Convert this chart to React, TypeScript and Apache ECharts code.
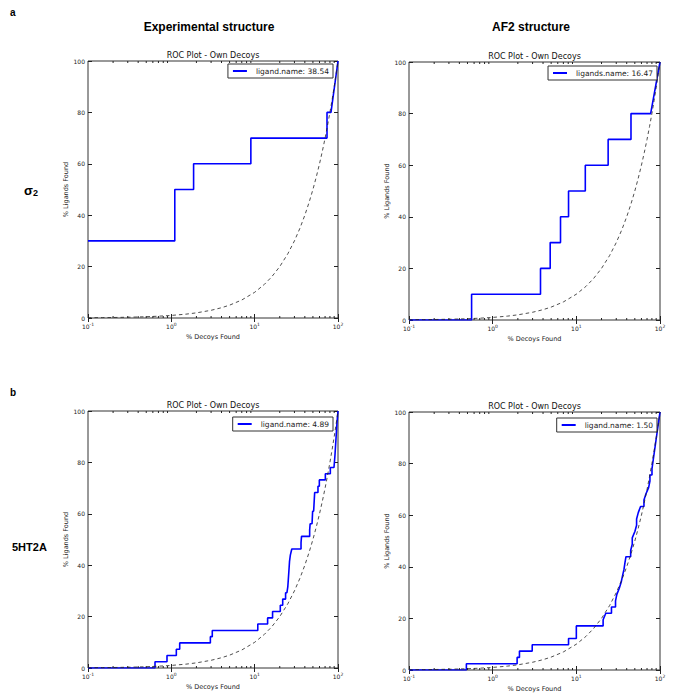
import React, { useEffect, useRef } from 'react';
import * as echarts from 'echarts';

// ---- data ----
const yTickStep = 20;
const minorTickValues = [0.2, 0.3, 0.4, 0.5, 0.6, 0.7, 0.8, 0.9, 2, 3, 4, 5, 6, 7, 8, 9, 20, 30, 40, 50, 60, 70, 80, 90];
const randomLine = [
  [0.1, 0.1], [0.15, 0.15], [0.2, 0.2], [0.3, 0.3], [0.4, 0.4], [0.5, 0.5], [0.7, 0.7], [1, 1], [1.5, 1.5],
  [2, 2], [3, 3], [4, 4], [5, 5], [7, 7], [10, 10], [13, 13], [16, 16], [20, 20], [25, 25], [30, 30], [35, 35],
  [40, 40], [45, 45], [50, 50], [55, 55], [60, 60], [65, 65], [70, 70], [75, 75], [80, 80], [85, 85], [90, 90], [95, 95], [100, 100],
];
const expSigma = [
  [0.1, 30], [1.1, 30], [1.1, 50], [1.85, 50], [1.85, 60], [9.0, 60], [9.0, 70], [73.8, 70], [73.8, 80], [82.4, 80], [100, 100],
];
const af2Sigma = [
  [0.1, 0], [0.56, 0], [0.56, 10], [3.73, 10], [3.73, 20], [4.87, 20], [4.87, 30], [6.47, 30], [6.47, 40], [8.07, 40],
  [8.07, 50], [12.8, 50], [12.8, 60], [24.0, 60], [24.0, 70], [45.0, 70], [45.0, 80], [77.3, 80], [100, 100],
];
const exp5ht = [
  [0.1, 0], [0.637, 0], [0.637, 2.44], [0.887, 2.44], [0.887, 4.88], [1.148, 4.88], [1.148, 7.32], [1.26, 7.32],
  [1.26, 9.76], [2.94, 9.76], [2.94, 12.2], [3.1, 12.2], [3.1, 14.6], [10.9, 14.6], [10.9, 17.1], [14.3, 17.1],
  [14.3, 19.5], [16.4, 19.5], [16.4, 22.0], [20.3, 22.0], [20.3, 24.4], [21.7, 24.4], [21.7, 26.8], [23.5, 26.8],
  [23.5, 29.3], [24.4, 29.3], [25.0, 31.7], [25.3, 34.1], [25.6, 36.6], [25.9, 39.0], [26.2, 41.5], [26.8, 43.9],
  [27.9, 46.3], [36.0, 46.3], [36.0, 48.8], [36.5, 51.2], [45.7, 51.2], [45.7, 53.7], [46.3, 56.1], [48.8, 56.1],
  [49.2, 58.5], [49.6, 61.0], [51.0, 61.0], [51.5, 63.4], [52.0, 65.9], [52.5, 68.3], [57.5, 68.3], [57.5, 70.7],
  [59.7, 70.7], [59.7, 73.2], [70.5, 73.2], [70.5, 75.6], [80.9, 75.6], [80.9, 78.0], [89.5, 78.0], [92, 82.9],
  [95, 90.2], [97, 95.1], [100, 100],
];
const af25ht = [
  [0.1, 0], [0.485, 0], [0.485, 2.44], [1.96, 2.44], [1.96, 4.88], [2.09, 4.88], [2.09, 7.32], [2.97, 7.32],
  [2.97, 9.76], [8.07, 9.76], [8.07, 12.2], [10.0, 12.2], [10.0, 17.1], [20.9, 17.1], [20.9, 19.5], [22.5, 22.0],
  [26.3, 22.0], [26.3, 24.4], [29.4, 24.4], [29.4, 26.8], [30.5, 29.3], [32.6, 31.7], [34.4, 34.1], [35.7, 36.6],
  [37.1, 39.0], [38.1, 41.5], [39.2, 43.9], [44.6, 43.9], [44.6, 46.3], [46.6, 48.8], [46.6, 51.2], [50.1, 53.7],
  [52.5, 56.1], [52.5, 58.5], [55.0, 61.0], [58.6, 63.4], [64.3, 63.4], [64.3, 65.9], [68.0, 68.3], [73.1, 70.7],
  [75.8, 73.2], [75.8, 75.6], [80.2, 75.6], [80.2, 78.0], [100, 100],
];
const legendNames = ['ligand.name: 38.54', 'ligands.name: 16.47', 'ligand.name: 4.89', 'ligand.name: 1.50'];
const panelData = [expSigma, af2Sigma, exp5ht, af25ht];
const plotTitle = 'ROC Plot - Own Decoys';
const xName = '% Decoys Found';
const yName = '% Ligands Found';

// ---- layout ----
const grids = [
  { left: 88, top: 61, width: 250, height: 257 },
  { left: 409, top: 62, width: 251, height: 258 },
  { left: 88, top: 411, width: 250, height: 257 },
  { left: 409, top: 412, width: 251, height: 258 },
];
const legendPos = [
  { right: 340, top: 64 },
  { right: 16, top: 66 },
  { right: 340, top: 417 },
  { right: 16, top: 418 },
];

const FONT = '"DejaVu Sans", sans-serif';
const AX = '#222';
const BOLD = '"Liberation Sans", Arial, sans-serif';

export default function App() {
  const ref = useRef<HTMLDivElement>(null);
  useEffect(() => {
    if (!ref.current) return;
    const chart = echarts.init(ref.current, undefined, { renderer: 'svg' });
    const xAxis: any[] = [];
    const yAxis: any[] = [];
    const series: any[] = [];
    const legend: any[] = [];
    const graphic: any[] = [];
    grids.forEach((g, i) => {
      xAxis.push({
        type: 'log', logBase: 10, min: 0.1, max: 100, gridIndex: i, position: 'bottom',
        name: xName, nameLocation: 'middle', nameGap: 15,
        nameTextStyle: { fontFamily: FONT, fontSize: 6.5, color: AX },
        axisLine: { show: false }, splitLine: { show: false },
        axisTick: { show: true, inside: true, length: 4, lineStyle: { color: AX } },
        axisLabel: {
          fontFamily: FONT, fontSize: 6, color: AX, margin: 4,
          formatter: (v: number) => `{b|10}{s|${Math.round(Math.log10(v))}}`,
          rich: { b: { fontFamily: FONT, fontSize: 6, color: AX }, s: { fontFamily: FONT, fontSize: 4.5, color: AX, padding: [0, 0, 4, 0] } },
        },
      });
      xAxis.push({
        type: 'log', logBase: 10, min: 0.1, max: 100, gridIndex: i, position: 'top',
        axisLine: { show: false }, splitLine: { show: false },
        axisTick: { show: true, inside: true, length: 4, lineStyle: { color: AX } },
        axisLabel: { show: false },
      });
      yAxis.push({
        type: 'value', min: 0, max: 100, interval: yTickStep, gridIndex: i, position: 'left',
        name: yName, nameLocation: 'middle', nameGap: 17, nameRotate: 90,
        nameTextStyle: { fontFamily: FONT, fontSize: 6.5, color: AX },
        axisLine: { show: false }, splitLine: { show: false },
        axisTick: { show: true, inside: true, length: 4, lineStyle: { color: AX } },
        axisLabel: { fontFamily: FONT, fontSize: 6, color: AX, margin: 3 },
      });
      yAxis.push({
        type: 'value', min: 0, max: 100, interval: yTickStep, gridIndex: i, position: 'right',
        axisLine: { show: false }, splitLine: { show: false },
        axisTick: { show: true, inside: true, length: 4, lineStyle: { color: AX } },
        axisLabel: { show: false },
      });
      series.push({
        type: 'line', name: legendNames[i], xAxisIndex: 2 * i, yAxisIndex: 2 * i,
        data: panelData[i], symbol: 'none', showSymbol: false,
        lineStyle: { color: '#0000ff', width: 1.6 }, itemStyle: { color: '#0000ff' }, z: 3,
      });
      series.push({
        type: 'line', name: 'random' + i, xAxisIndex: 2 * i, yAxisIndex: 2 * i,
        data: randomLine, symbol: 'none', showSymbol: false, smooth: false,
        lineStyle: { color: '#222', width: 0.8, type: [3.5, 3] }, z: 4,
      });
      series.push({
        type: 'custom', name: 'minor' + i, xAxisIndex: 2 * i, yAxisIndex: 2 * i,
        data: minorTickValues.map((v) => [v]),
        silent: true, z: 5,
        renderItem: (params: any, api: any) => {
          const x = api.value(0);
          const b = api.coord([x, 0]);
          const t = api.coord([x, 100]);
          return {
            type: 'group',
            children: [
              { type: 'line', shape: { x1: b[0], y1: b[1], x2: b[0], y2: b[1] - 2 }, style: { stroke: AX, lineWidth: 1 } },
              { type: 'line', shape: { x1: t[0], y1: t[1], x2: t[0], y2: t[1] + 2 }, style: { stroke: AX, lineWidth: 1 } },
            ],
          };
        },
      });
      legend.push({
        data: [legendNames[i]], right: legendPos[i].right, top: legendPos[i].top,
        orient: 'vertical', backgroundColor: '#fff', borderColor: '#333', borderWidth: 1, borderRadius: 0,
        padding: [3, 4, 3, 5], itemWidth: 14, itemHeight: 2, itemGap: 0,
        textStyle: { fontFamily: FONT, fontSize: 7.5, color: '#222', padding: [0, 0, 0, 4] },
        icon: 'rect', selectedMode: false,
      });
      graphic.push({
        type: 'text', x: g.left + g.width / 2, y: g.top - 6,
        style: { text: plotTitle, fontFamily: FONT, fontSize: 8, fill: '#111', align: 'center', verticalAlign: 'middle' },
      });
    });
    graphic.push(
      { type: 'text', x: 209, y: 27, style: { text: 'Experimental structure', fontFamily: BOLD, fontWeight: 'bold', fontSize: 12, fill: '#000', align: 'center', verticalAlign: 'middle' } },
      { type: 'text', x: 531, y: 27, style: { text: 'AF2 structure', fontFamily: BOLD, fontWeight: 'bold', fontSize: 12, fill: '#000', align: 'center', verticalAlign: 'middle' } },
      { type: 'text', x: 10, y: 12, style: { text: 'a', fontFamily: BOLD, fontWeight: 'bold', fontSize: 10, fill: '#000', align: 'left', verticalAlign: 'middle' } },
      { type: 'text', x: 10, y: 392, style: { text: 'b', fontFamily: BOLD, fontWeight: 'bold', fontSize: 10, fill: '#000', align: 'left', verticalAlign: 'middle' } },
      {
        type: 'text', x: 24, y: 190,
        style: {
          text: '{a|σ}{b|2}', align: 'left', verticalAlign: 'middle',
          rich: {
            a: { fontFamily: BOLD, fontWeight: 'bold', fontSize: 13, fill: '#000', color: '#000' },
            b: { fontFamily: BOLD, fontWeight: 'bold', fontSize: 9, fill: '#000', color: '#000', padding: [5, 0, 0, 0] },
          },
        },
      },
      { type: 'text', x: 12, y: 547, style: { text: '5HT2A', fontFamily: BOLD, fontWeight: 'bold', fontSize: 11, fill: '#000', align: 'left', verticalAlign: 'middle' } },
    );
    chart.setOption({
      animation: false,
      backgroundColor: '#fff',
      grid: grids.map((g) => ({ ...g, show: true, borderColor: '#333', borderWidth: 1, backgroundColor: 'transparent' })),
      xAxis, yAxis, series, legend, graphic,
    });
    return () => chart.dispose();
  }, []);
  return <div ref={ref} style={{ position: 'fixed', left: 0, top: 0, width: 673, height: 700, background: '#fff' }} />;
}
